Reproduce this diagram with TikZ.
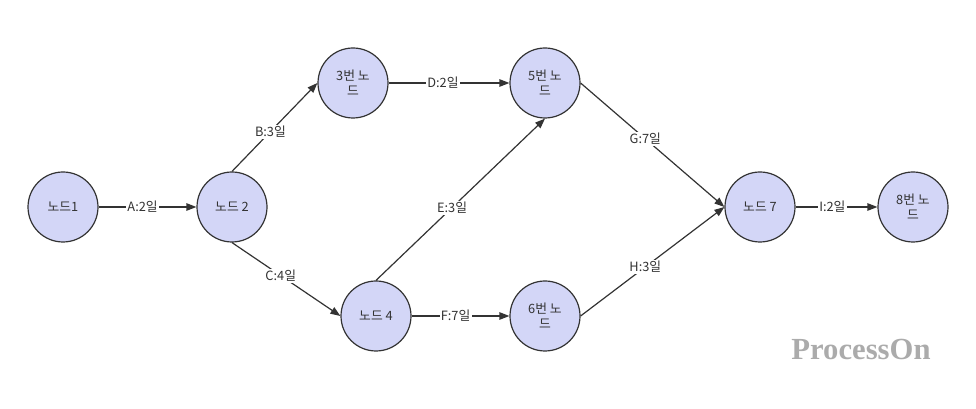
\documentclass[tikz,border=0pt]{standalone}
\usepackage{fontspec}
\setmainfont{Noto Sans CJK KR}
\newfontfamily\wmfont{Liberation Serif}
\usetikzlibrary{arrows.meta}
\definecolor{netFill}{HTML}{D3D6F7}
\definecolor{netInk}{HTML}{333333}
\definecolor{netMark}{HTML}{ABABAB}

\begin{document}
\begin{tikzpicture}[x=0.75pt,y=-0.75pt,font=\fontsize{9.6}{11}\selectfont]
    \tikzset{evt/.style={circle,draw=netInk,fill=netFill,line width=0.9pt,minimum size=52.5pt,inner sep=0pt,align=center,text=netInk},
      act/.style={-{Triangle[length=7.5pt,width=5.6pt]},netInk,line width=0.9pt},
      dur/.style={pos=0.45,fill=white,inner sep=1pt,text=netInk}}
    \useasboundingbox (0,0) rectangle (976,409);
    \node[evt] (n1) at (63,207) {노드1};
    \node[evt] (n2) at (232,207) {노드 2};
    \node[evt] (n3) at (353,83) {3번 노\\ 드};
    \node[evt] (n5) at (545,83) {5번 노\\ 드};
    \node[evt] (n4) at (376,316) {노드 4};
    \node[evt] (n6) at (545,316) {6번 노\\ 드};
    \node[evt] (n7) at (760,207) {노드 7};
    \node[evt] (n8) at (913,207) {8번 노\\ 드};
    \draw[act] (n1.east) -- (n2.west) node[dur]{A:2일};
    \draw[act] (n2.north) -- (n3.west) node[dur]{B:3일};
    \draw[act] (n2.south) -- (n4.west) node[dur]{C:4일};
    \draw[act] (n3.east) -- (n5.west) node[dur]{D:2일};
    \draw[act] (n4.north) -- (n5.south) node[dur]{E:3일};
    \draw[act] (n4.east) -- (n6.west) node[dur]{F:7일};
    \draw[act] (n5.east) -- (n7.west) node[dur]{G:7일};
    \draw[act] (n6.east) -- (n7.west) node[dur]{H:3일};
    \draw[act] (n7.east) -- (n8.west) node[dur]{I:2일};
    \node[netMark,font=\wmfont\bfseries\fontsize{23}{25}\selectfont] (mark) at (861,349) {ProcessOn};
  \end{tikzpicture}
\end{document}
